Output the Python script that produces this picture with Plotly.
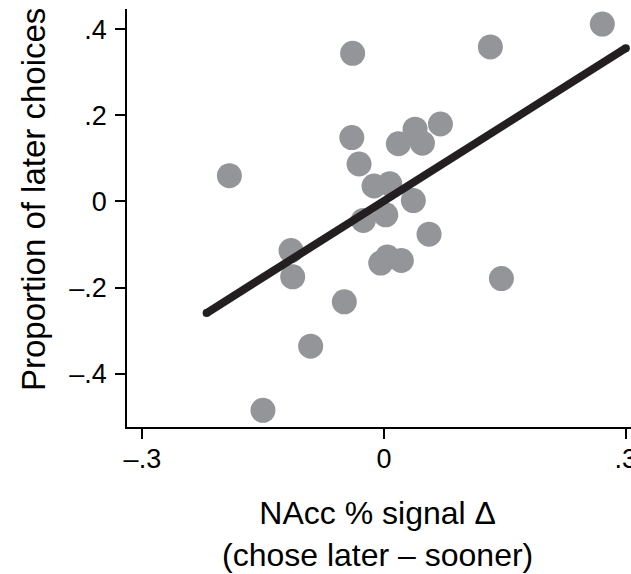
import plotly.graph_objects as go

# Data
nacc_signal = [0.271, 0.132, -0.039, 0.070, 0.0385, 0.0476, 0.0178, -0.040, -0.031, -0.192,
               -0.0124, 0.0071, 0.0364, 0.0021, -0.0257, 0.0559, -0.1155, -0.0041, 0.0041, 0.0215,
               -0.1134, 0.1457, -0.0493, -0.0911, -0.1503]
later_choices = [0.412, 0.359, 0.344, 0.180, 0.168, 0.1355, 0.134, 0.1485, 0.087, 0.060,
                 0.036, 0.041, 0.002, -0.031, -0.044, -0.076, -0.114, -0.143, -0.129, -0.137,
                 -0.175, -0.179, -0.233, -0.336, -0.485]
fit_x = [-0.2203, 0.3002]
fit_y = [-0.259, 0.356]

x_tickvals = [-0.3, 0, 0.3]
x_ticktext = ["–.3", "0", ".3"]
y_tickvals = [-0.4, -0.2, 0, 0.2, 0.4]
y_ticktext = ["–.4", "–.2", "0", ".2", ".4"]

x_title = "NAcc % signal Δ<br>(chose later – sooner)"
y_title = "Proportion of later choices"

W, H = 631, 574
L, R, T, B = 127, 0, 9, 147
pw, ph = W - L - R, H - T - B

def px(xp):
    return (xp - L) / pw

def py(yp):
    return (H - B - yp) / ph

FONT = "Liberation Sans, Arial, Helvetica, sans-serif"

fig = go.Figure()
fig.add_trace(go.Scatter(
    x=nacc_signal, y=later_choices, mode="markers",
    marker=dict(size=25, color="#939598", line=dict(width=0)),
    hoverinfo="skip", showlegend=False))
fig.add_trace(go.Scatter(
    x=fit_x, y=fit_y, mode="lines+markers",
    line=dict(color="#231f20", width=8),
    marker=dict(size=8, color="#231f20"),
    hoverinfo="skip", showlegend=False))

fig.update_layout(
    width=W, height=H,
    margin=dict(l=L, r=R, t=T, b=B, autoexpand=False),
    plot_bgcolor="white", paper_bgcolor="white",
    font=dict(family=FONT, color="black"),
    xaxis=dict(range=[-0.3191, 0.3066], tickvals=x_tickvals, ticktext=x_ticktext,
               showgrid=False, zeroline=False, showline=True, linecolor="black", linewidth=1.5,
               ticks="outside", ticklen=10, tickwidth=1.5, tickcolor="black",
               tickfont=dict(size=27, family=FONT), ticklabelstandoff=-3,
               ticklabeloverflow="allow", automargin=False),
    yaxis=dict(range=[-0.5237, 0.447], tickvals=y_tickvals, ticktext=y_ticktext,
               showgrid=False, zeroline=False, showline=True, linecolor="black", linewidth=1.5,
               ticks="outside", ticklen=10, tickwidth=1.5, tickcolor="black",
               tickfont=dict(size=27, family=FONT), ticklabelstandoff=3,
               ticklabeloverflow="allow", automargin=False),
    annotations=[
        dict(text=x_title, xref="paper", yref="paper", x=px(377), y=py(493),
             xanchor="center", yanchor="top", showarrow=False,
             font=dict(size=32, family=FONT, color="black")),
        dict(text=y_title, xref="paper", yref="paper", x=px(33), y=py(200),
             xanchor="center", yanchor="middle", textangle=-90, showarrow=False,
             font=dict(size=33, family=FONT, color="black")),
    ],
)

fig.write_html("out.html", config={"displayModeBar": False},
               post_script="document.body.style.margin='0px';document.body.style.overflow='hidden';")
